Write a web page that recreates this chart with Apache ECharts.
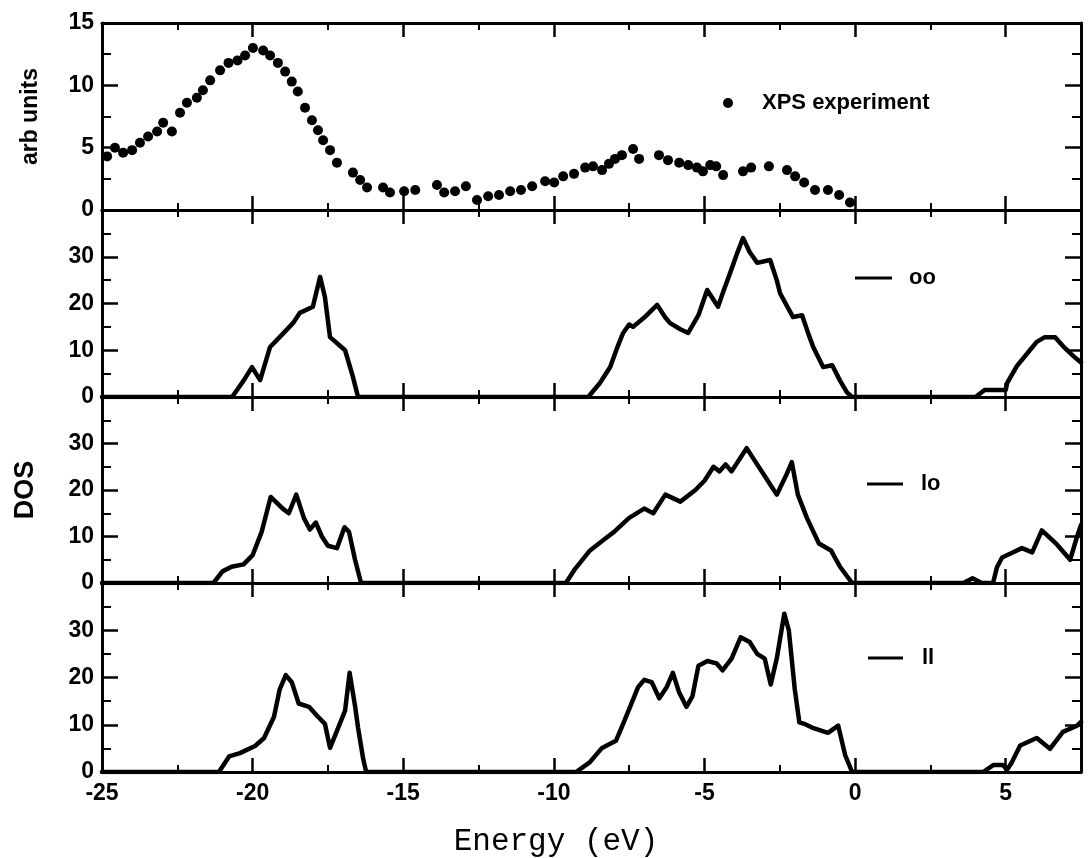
<!DOCTYPE html>
<html>
<head>
<meta charset="utf-8">
<title>XPS and DOS vs Energy</title>
<script src="https://cdn.jsdelivr.net/npm/echarts@6/dist/echarts.min.js"></script>
<style>
  html, body { margin: 0; padding: 0; background: #ffffff; }
  #chart { width: 1089px; height: 858px; }
</style>
</head>
<body>
<div id="chart"></div>
<script>
// XPS experiment (arb units)
const xpsEnergy = [-24.83, -24.57, -24.3, -24.0, -23.74, -23.47, -23.17, -22.97, -22.68, -22.41,
  -22.18, -21.85, -21.65, -21.41, -21.08, -20.8, -20.5, -20.25, -19.99, -19.65,
  -19.42, -19.16, -18.92, -18.7, -18.5, -18.26, -18.03, -17.83, -17.66, -17.43,
  -17.2, -16.67, -16.43, -16.2, -15.67, -15.44, -14.97, -14.6, -13.88, -13.64,
  -13.28, -12.92, -12.55, -12.18, -11.82, -11.45, -11.09, -10.72, -10.29, -9.99,
  -9.69, -9.33, -8.96, -8.7, -8.4, -8.17, -7.97, -7.74, -7.37, -7.17,
  -6.51, -6.21, -5.84, -5.54, -5.25, -5.05, -4.81, -4.61, -4.38, -3.72,
  -3.45, -2.86, -2.26, -1.99, -1.69, -1.33, -0.9, -0.53, -0.17];
const xpsIntensity = [4.3, 5.0, 4.6, 4.8, 5.4, 5.9, 6.3, 7.0, 6.3, 7.8,
  8.6, 9.0, 9.6, 10.4, 11.2, 11.8, 12.0, 12.4, 13.0, 12.8,
  12.4, 11.8, 11.1, 10.3, 9.5, 8.2, 7.2, 6.4, 5.6, 4.8,
  3.8, 3.0, 2.4, 1.8, 1.8, 1.4, 1.5, 1.6, 2.0, 1.4,
  1.5, 1.9, 0.8, 1.1, 1.2, 1.5, 1.6, 1.9, 2.3, 2.2,
  2.7, 2.9, 3.4, 3.5, 3.2, 3.7, 4.1, 4.4, 4.9, 4.1,
  4.4, 4.0, 3.8, 3.6, 3.4, 3.1, 3.6, 3.5, 2.8, 3.1,
  3.4, 3.5, 3.2, 2.7, 2.2, 1.6, 1.6, 1.2, 0.6];

// DOS, configuration "oo"
const dosOOEnergy = [-25, -20.68, -20.3, -20.02, -19.75, -19.42, -19.03, -18.66, -18.43, -18.0,
  -17.76, -17.6, -17.43, -16.93, -16.67, -16.5, -8.86, -8.47, -8.13, -7.9,
  -7.7, -7.5, -7.37, -7.0, -6.57, -6.3, -6.14, -5.8, -5.54, -5.2,
  -4.91, -4.55, -4.35, -4.15, -3.9, -3.72, -3.5, -3.25, -2.82, -2.6,
  -2.49, -2.06, -1.76, -1.55, -1.39, -1.06, -0.76, -0.5, -0.27, -0.1,
  4.0, 4.3, 5.0, 5.05, 5.37, 5.7, 6.03, 6.3, 6.64, 6.9, 7.24, 7.5];
const dosOO = [0, 0, 3.5, 6.4, 3.6, 10.7, 13.3, 15.8, 18, 19.3,
  25.7, 21.4, 12.8, 10, 4.3, 0, 0, 3, 6.4, 10.5,
  13.7, 15.5, 15, 17, 19.7, 17, 15.8, 14.5, 13.7, 17.5,
  22.9, 19.3, 23, 26.5, 31, 34, 31, 28.7, 29.3, 25,
  22.2, 17.1, 17.5, 13.5, 10.7, 6.4, 6.8, 3.5, 1, 0,
  0, 1.5, 1.5, 3, 6.6, 9.2, 11.8, 12.8, 12.8, 10.9, 8.8, 7.4];

// DOS, configuration "lo"
const dosLOEnergy = [-25, -21.3, -21.0, -20.7, -20.3, -20.0, -19.7, -19.4, -19.0, -18.8,
  -18.55, -18.3, -18.1, -17.9, -17.7, -17.5, -17.2, -16.95, -16.8, -16.6,
  -16.4, -9.6, -9.3, -8.8, -8.3, -8.0, -7.5, -7.0, -6.7, -6.3,
  -5.8, -5.3, -5.0, -4.7, -4.5, -4.3, -4.1, -3.8, -3.6, -3.3,
  -3.0, -2.6, -2.3, -2.1, -1.9, -1.6, -1.2, -0.8, -0.5, -0.1,
  3.6, 3.9, 4.2, 4.58, 4.71, 4.88, 5.25, 5.54, 5.88, 6.2,
  6.7, 7.14, 7.37, 7.5];
const dosLO = [0, 0, 2.5, 3.5, 4, 6, 11, 18.5, 16, 15,
  19, 14, 11.5, 13, 10, 8, 7.5, 12, 11, 5,
  0, 0, 3, 7, 9.5, 11, 14, 16, 15, 19,
  17.5, 20, 22, 25, 24, 25.5, 24, 27, 29, 26,
  23, 19, 23, 26, 19, 14, 8.5, 7, 3.5, 0,
  0, 1.0, 0, 0, 3.4, 5.5, 6.6, 7.5, 6.6, 11.3,
  8.3, 5, 10, 12.5];

// DOS, configuration "ll"
const dosLLEnergy = [-25, -21.12, -20.78, -20.42, -19.92, -19.62, -19.29, -19.1, -18.9, -18.7,
  -18.47, -18.13, -17.83, -17.6, -17.43, -17.2, -16.93, -16.78, -16.6, -16.5,
  -16.33, -16.23, -9.26, -8.8, -8.4, -7.94, -7.7, -7.47, -7.2, -7.0,
  -6.75, -6.5, -6.25, -6.05, -5.85, -5.6, -5.4, -5.2, -4.9, -4.6,
  -4.4, -4.1, -3.8, -3.5, -3.25, -3.0, -2.8, -2.6, -2.35, -2.2,
  -2.0, -1.85, -1.69, -1.43, -0.9, -0.56, -0.33, -0.1, 4.25, 4.6,
  4.9, 5.05, 5.2, 5.48, 6.03, 6.47, 6.9, 7.37, 7.5];
const dosLL = [0, 0, 3.3, 4, 5.5, 7.2, 11.7, 17.5, 20.5, 19,
  14.5, 13.8, 11.7, 10.2, 5.1, 8.7, 13, 21, 14, 9.4,
  2.8, 0, 0, 2.1, 5.1, 6.6, 10.2, 13.8, 18, 19.5,
  19, 15.6, 18, 21, 17, 13.8, 16, 22.5, 23.5, 23,
  21.5, 24, 28.5, 27.5, 25, 24, 18.5, 24, 33.5, 30,
  17.4, 10.5, 10.2, 9.4, 8.3, 9.8, 3.6, 0, 0, 1.5,
  1.5, 0.5, 2, 5.6, 7.2, 4.9, 8.5, 9.8, 10.6];

// Energy axis and panel axis settings
const energyMin = -25, energyMax = 7.5, energyStep = 5;
const xpsMax = 15, xpsStep = 5;
const dosMax = 40, dosStep = 10;
const dosLabels = ['oo', 'lo', 'll'];

const pairs = (xs, ys) => xs.map((x, i) => [x, ys[i]]);

const INK = '#000000';
const tickFont = { color: INK, fontFamily: 'Liberation Sans', fontWeight: 'bold', fontSize: 23 };

const grids = [
  { left: 102, right: 8, top: 23, height: 187 },
  { left: 102, right: 8, top: 210, height: 187 },
  { left: 102, right: 8, top: 397, height: 186 },
  { left: 102, right: 8, top: 583, height: 189 }
];

const xAxes = [];
const yAxes = [];
grids.forEach((g, i) => {
  ['bottom', 'top'].forEach(pos => {
    xAxes.push({
      type: 'value', gridIndex: i, position: pos,
      min: energyMin, max: energyMax, interval: energyStep,
      axisLine: { show: true, onZero: false, lineStyle: { color: INK, width: 3 } },
      axisTick: { show: true, inside: true, length: 14, lineStyle: { color: INK, width: 2.5 } },
      minorTick: { show: true, splitNumber: 2, length: 7, lineStyle: { color: INK, width: 2 } },
      axisLabel: {
        show: pos === 'bottom' && i === grids.length - 1,
        margin: 10, ...tickFont,
        showMaxLabel: false,
        formatter: v => (v % energyStep === 0 ? String(v) : '')
      },
      splitLine: { show: false }
    });
  });
  const max = i === 0 ? xpsMax : dosMax;
  const step = i === 0 ? xpsStep : dosStep;
  ['left', 'right'].forEach(pos => {
    const ax = {
      type: 'value', gridIndex: i, position: pos,
      min: 0, max: max, interval: step,
      axisLine: { show: true, onZero: false, lineStyle: { color: INK, width: 3 } },
      axisTick: { show: true, inside: true, length: 16, lineStyle: { color: INK, width: 2.5 } },
      minorTick: { show: true, splitNumber: 2, length: 9, lineStyle: { color: INK, width: 2 } },
      axisLabel: {
        show: pos === 'left', margin: 8, ...tickFont,
        formatter: v => (i > 0 && v === dosMax) ? '' : String(v)
      },
      splitLine: { show: false }
    };
    if (pos === 'left' && i === 0) {
      Object.assign(ax, {
        name: 'arb units', nameLocation: 'middle', nameGap: 60,
        nameTextStyle: { color: INK, fontFamily: 'Liberation Sans', fontWeight: 'bold', fontSize: 23 }
      });
    }
    if (pos === 'left' && i === 2) {
      Object.assign(ax, {
        name: 'DOS', nameLocation: 'middle', nameGap: 63,
        nameTextStyle: { color: INK, fontFamily: 'Liberation Sans', fontWeight: 'bold', fontSize: 27 }
      });
    }
    yAxes.push(ax);
  });
});

const lineSeries = (name, xs, ys, panel) => ({
  name, type: 'line', xAxisIndex: panel * 2, yAxisIndex: panel * 2,
  data: pairs(xs, ys), symbol: 'none', smooth: false,
  lineStyle: { color: INK, width: 4.5, join: 'round', cap: 'round' },
  z: 3
});

const series = [
  {
    name: 'XPS experiment', type: 'scatter', xAxisIndex: 0, yAxisIndex: 0,
    data: pairs(xpsEnergy, xpsIntensity), symbol: 'circle', symbolSize: 10,
    itemStyle: { color: INK, opacity: 1 }, z: 3
  },
  lineSeries(dosLabels[0], dosOOEnergy, dosOO, 1),
  lineSeries(dosLabels[1], dosLOEnergy, dosLO, 2),
  lineSeries(dosLabels[2], dosLLEnergy, dosLL, 3)
];

// Panel keys: marker plus label
const keyFont = { fill: INK, fontFamily: 'Liberation Sans', fontWeight: 'bold', fontSize: 22 };
const graphic = [
  { type: 'circle', shape: { cx: 728, cy: 103, r: 5 }, style: { fill: INK } },
  { type: 'text', x: 762, y: 103, style: { text: 'XPS experiment', ...keyFont, verticalAlign: 'middle' } },
  { type: 'line', shape: { x1: 855, y1: 278, x2: 892, y2: 278 }, style: { stroke: INK, lineWidth: 3 } },
  { type: 'text', x: 909, y: 278, style: { text: dosLabels[0], ...keyFont, verticalAlign: 'middle' } },
  { type: 'line', shape: { x1: 867, y1: 484, x2: 903, y2: 484 }, style: { stroke: INK, lineWidth: 3 } },
  { type: 'text', x: 921, y: 484, style: { text: dosLabels[1], ...keyFont, verticalAlign: 'middle' } },
  { type: 'line', shape: { x1: 868, y1: 658, x2: 903, y2: 658 }, style: { stroke: INK, lineWidth: 3 } },
  { type: 'text', x: 922, y: 658, style: { text: dosLabels[2], ...keyFont, verticalAlign: 'middle' } },
  { type: 'text', x: 556, y: 842, style: {
      text: 'Energy (eV)', fill: INK, fontFamily: 'Liberation Mono', fontSize: 31,
      align: 'center', verticalAlign: 'middle' } }
];

const chart = echarts.init(document.getElementById('chart'), null, { renderer: 'canvas' });
chart.setOption({
  backgroundColor: '#ffffff',
  animation: false,
  grid: grids,
  xAxis: xAxes,
  yAxis: yAxes,
  series,
  graphic
});
</script>
</body>
</html>
